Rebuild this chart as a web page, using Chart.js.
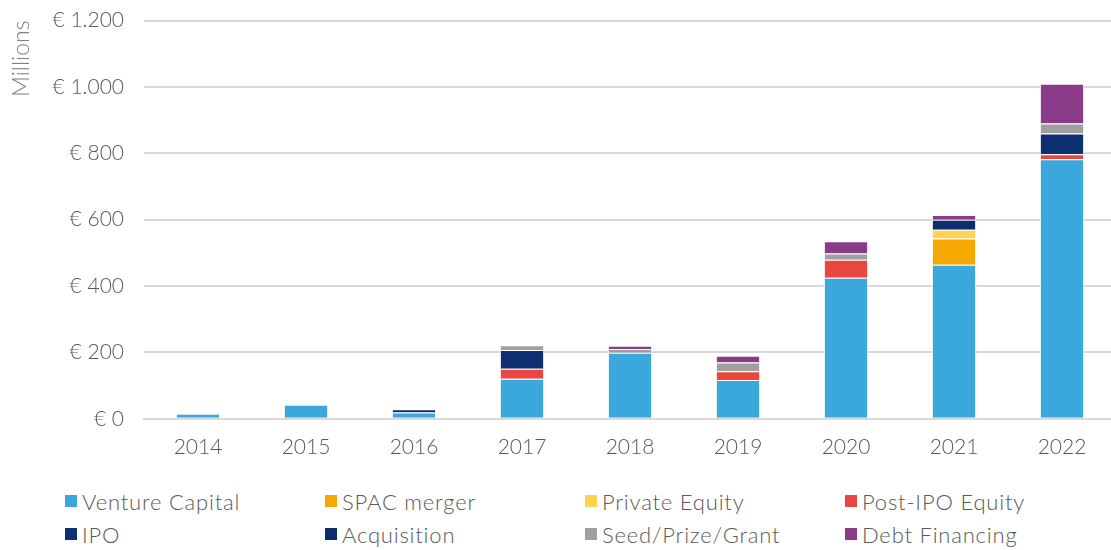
<!DOCTYPE html>
<html>
<head>
<meta charset="utf-8">
<script src="https://cdn.jsdelivr.net/npm/chart.js@4.4.1/dist/chart.umd.min.js"></script>
<style>
  html, body { margin: 0; padding: 0; background: #fff; overflow: hidden; }
  #wrap { position: relative; top: -12px; width: 1116px; height: 480px; }
  #legenda {
    position: absolute; left: 65px; top: 489px;
    display: grid; grid-template-columns: 260px 260px 260px 260px; row-gap: 9px;
    font-family: Lato, "Open Sans", sans-serif; font-weight: 300; font-size: 22px;
    letter-spacing: 0.8px; color: #595959;
  }
  .item { display: flex; align-items: center; height: 24px; }
  .caixa { width: 12px; height: 12px; margin-right: 5px; }
</style>
</head>
<body>
<div id="wrap"><canvas id="grafico"></canvas></div>
<div id="legenda"></div>
<script>
// --- dados ---
const anos = ['2014', '2015', '2016', '2017', '2018', '2019', '2020', '2021', '2022'];
const ventureCapital = [15, 42, 19, 121, 199, 117, 425, 464, 782];
const spacMerger     = [null, null, null, null, null, null, null, 79, null];
const privateEquity  = [null, null, null, null, null, null, null, 27, null];
const postIpoEquity  = [null, null, null, 30, null, 26, 54, null, 15];
const ipo            = [null, null, null, 56, null, null, null, null, 63];
const acquisition    = [null, null, 10, null, null, null, null, 30, null];
const seedPrizeGrant = [null, null, null, 15, 11, 27, 19, null, 30];
const debtFinancing  = [null, null, null, null, 10, 20, 37, 14, 120];
const ticksY = [0, 200, 400, 600, 800, 1000, 1200];

const series = [
    { label: 'Venture Capital', data: ventureCapital, cor: '#3AA8DA' },
    { label: 'SPAC merger', data: spacMerger, cor: '#F5A800' },
    { label: 'Private Equity', data: privateEquity, cor: '#FFD24F' },
    { label: 'Post-IPO Equity', data: postIpoEquity, cor: '#E8473E' },
    { label: 'IPO', data: ipo, cor: '#0E2F72' },
    { label: 'Acquisition', data: acquisition, cor: '#0C2C6C' },
    { label: 'Seed/Prize/Grant', data: seedPrizeGrant, cor: '#A0A0A0' },
    { label: 'Debt Financing', data: debtFinancing, cor: '#8A3C8B' }
];

function formatarEuro(v) {
    return '€ ' + String(v).replace(/\B(?=(\d{3})+(?!\d))/g, '.');
}

const fonteTicks = { family: 'Lato, "Open Sans", sans-serif', size: 21, weight: 300 };

new Chart(document.getElementById('grafico').getContext('2d'), {
    type: 'bar',
    data: {
        labels: anos,
        datasets: series.map(s => ({
            label: s.label,
            data: s.data,
            backgroundColor: s.cor,
            borderColor: '#ffffff',
            borderWidth: 1,
            barPercentage: 0.41,
            categoryPercentage: 1
        }))
    },
    options: {
        responsive: true,
        maintainAspectRatio: false,
        animation: false,
        layout: { padding: 0 },
        plugins: { legend: { display: false }, tooltip: { enabled: false } },
        scales: {
            x: {
                stacked: true,
                grid: { display: false },
                border: { color: '#d9d9d9', width: 2 },
                ticks: { color: '#595959', font: fonteTicks, padding: 8 }
            },
            y: {
                stacked: true,
                min: 0,
                max: 1200,
                afterBuildTicks: axis => { axis.ticks = ticksY.map(v => ({ value: v })); },
                afterFit: axis => { axis.width = 144; },
                grid: { color: '#d9d9d9', lineWidth: 2, drawTicks: false },
                border: { display: false },
                ticks: { color: '#595959', font: fonteTicks, padding: 20, callback: v => formatarEuro(v) },
                title: {
                    display: true, text: 'Millions', align: 'end',
                    color: '#7f7f7f', font: { family: 'Lato, "Open Sans", sans-serif', size: 23, weight: 300 },
                    padding: { top: 8, bottom: 0 }
                }
            }
        }
    }
});

// legenda em grade de 4 colunas
const legenda = document.getElementById('legenda');
series.forEach(s => {
    const div = document.createElement('div');
    div.className = 'item';
    div.innerHTML = `<span class="caixa" style="background:${s.cor}"></span><span>${s.label}</span>`;
    legenda.appendChild(div);
});
</script>
</body>
</html>
